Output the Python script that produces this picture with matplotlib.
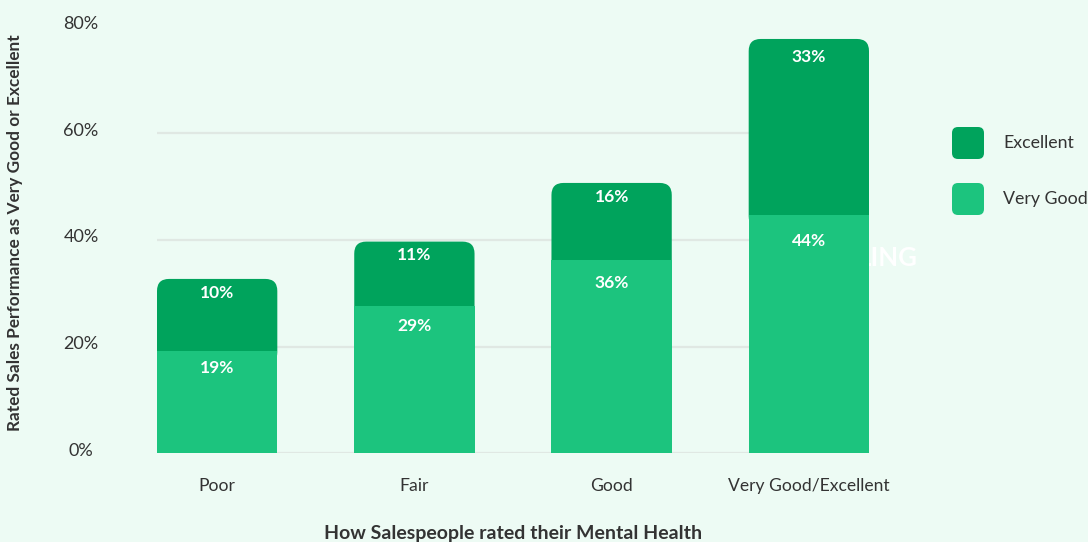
import matplotlib
matplotlib.use("Agg")
import matplotlib.pyplot as plt
from matplotlib.patches import FancyBboxPatch

categories = ["Poor", "Fair", "Good", "Very Good/Excellent"]
very_good = [19.2, 27.7, 36.3, 44.7]
excellent = [13.5, 12.0, 14.4, 33.0]
very_good_labels = ["19%", "29%", "36%", "44%"]
excellent_labels = ["10%", "11%", "16%", "33%"]
y_ticks = [0, 20, 40, 60, 80]

bg = "#edfbf4"
c_exc = "#00a35c"
c_vg = "#1cc47e"
txt = "#333333"

plt.rcParams["font.family"] = ["Lato", "DejaVu Sans"]

fig = plt.figure(figsize=(10.88, 5.42), dpi=100, facecolor=bg)
ax = fig.add_axes([157 / 1088, 1 - 453.3 / 542, 712 / 1088, 426.6 / 542])
ax.set_facecolor("none")
ax.set_zorder(1)

xmin, xmax = -0.305, 3.305
ax.set_xlim(xmin, xmax)
ax.set_ylim(0, 80)
width = 0.61

# rounded tops: radius in pixels converted to data units
x_per_px = (xmax - xmin) / 712
y_per_px = 80 / 426.6
r_px = 12

for i in range(len(categories)):
    total = very_good[i] + excellent[i]
    base = very_good[i] - 2.5
    p = FancyBboxPatch((i - width / 2, base), width, total - base,
                       boxstyle=f"round,pad=0,rounding_size={r_px * x_per_px}",
                       mutation_aspect=y_per_px / x_per_px,
                       facecolor=c_exc, edgecolor="none", zorder=2)
    ax.add_patch(p)

ax.bar(range(len(categories)), very_good, width=width, color=c_vg, zorder=3)

# label drop below segment top, in pixels
exc_drop = [14, 13, 14, 18]
vg_drop = [17, 20, 23, 26]
for i in range(len(categories)):
    total = very_good[i] + excellent[i]
    ax.annotate(excellent_labels[i], (i, total), xytext=(0, -exc_drop[i] * 0.72), textcoords="offset points",
                ha="center", va="center", color="white", fontsize=12.5, fontweight="bold", zorder=4)
    ax.annotate(very_good_labels[i], (i, very_good[i]), xytext=(0, -vg_drop[i] * 0.72), textcoords="offset points",
                ha="center", va="center", color="white", fontsize=12.5, fontweight="bold", zorder=4)

# gridlines (none at the top tick)
for v in y_ticks[:-1]:
    ax.axhline(v, color="#e0e8e3", linewidth=1.6, zorder=0)

# y tick labels, sitting slightly above their gridlines
ax.set_yticks([])
for v in y_ticks:
    ax.annotate(f"{v}%", (0, v), xycoords=ax.get_yaxis_transform(), xytext=(-54.7, 2),
                textcoords="offset points", ha="center", va="center",
                fontsize=13, color=txt)

ax.set_xticks(range(len(categories)))
ax.set_xticklabels(categories)
ax.tick_params(axis="x", length=0, labelsize=12.6, labelcolor=txt, pad=18)
for s in ax.spines.values():
    s.set_visible(False)

fig.text(15 / 1088, 1 - 233 / 542, "Rated Sales Performance as Very Good or Excellent",
         rotation=90, ha="center", va="center", fontsize=12.4, fontweight="bold", color=txt)
fig.text(513 / 1088, 1 - 533 / 542, "How Salespeople rated their Mental Health",
         ha="center", va="center", fontsize=14, fontweight="bold", color=txt)

# faint watermark behind the last bar
fig.text(918 / 1088, 1 - 258 / 542, "LING", ha="right", va="center", fontsize=18.5,
         fontweight="bold", color="white", zorder=0.5)

# legend
for lbl, col, ytop in [("Excellent", c_exc, 127), ("Very Good", c_vg, 183)]:
    sq = FancyBboxPatch((9.52, (542 - ytop - 32) / 100), 0.32, 0.32,
                        boxstyle="round,pad=0,rounding_size=0.06",
                        transform=fig.dpi_scale_trans, facecolor=col, edgecolor="none")
    fig.patches.append(sq)
    fig.text(10.03, (542 - ytop - 16) / 100, lbl, transform=fig.dpi_scale_trans,
             ha="left", va="center", fontsize=12.8, color=txt)

fig.savefig("out.png", dpi=100, facecolor=bg)
